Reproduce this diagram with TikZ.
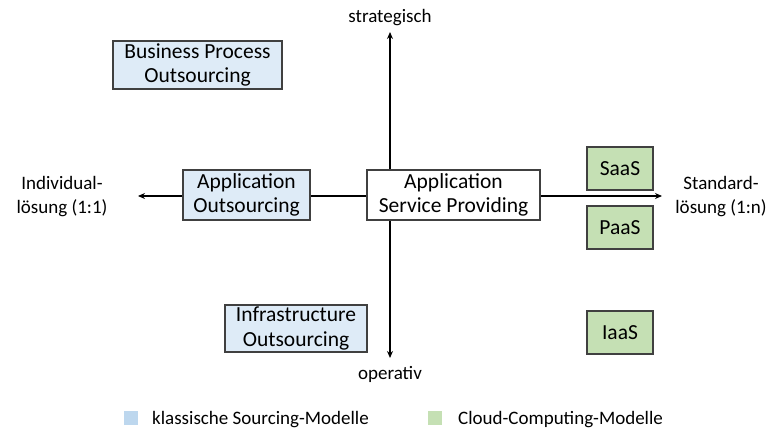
\documentclass[tikz,border=0pt]{standalone}
\usepackage{fontspec}
\setmainfont{Carlito}
\usetikzlibrary{arrows.meta}
\definecolor{classicfill}{HTML}{DEEBF7}
\definecolor{cloudfill}{HTML}{C5E0B4}
\definecolor{classickey}{HTML}{BDD7EE}
\definecolor{boxline}{HTML}{404040}
\tikzset{
  box/.style={draw=boxline, line width=1.2pt, align=center, inner sep=0pt,
    font=\fontsize{21.5}{24.5}\selectfont},
  classic/.style={box, fill=classicfill},
  cloud/.style={box, fill=cloudfill},
  plain/.style={box, fill=white},
  axis/.style={line width=1.6pt, -{Stealth[length=7pt,width=6pt]}},
  axislabel/.style={align=center, inner sep=0pt, font=\fontsize{19}{24}\selectfont},
  keybox/.style={minimum size=14pt, inner sep=0pt}
}
\begin{document}
\begin{tikzpicture}[x=1pt,y=-1pt]
\useasboundingbox (0,0) rectangle (776,430);

% axis end points and origin
\coordinate (origin) at (390,196);
\coordinate (top) at (390,32);
\coordinate (bottom) at (390,358);
\coordinate (left) at (138,196);
\coordinate (right) at (662,196);

\draw[axis] (origin) -- (top);
\draw[axis] (origin) -- (bottom);
\draw[axis] (origin) -- (left);
\draw[axis] (origin) -- (right);

% axis labels
\node[axislabel] (strat) at (390,18) {strategisch};
\node[axislabel] (oper) at (390,374) {operativ};
\node[axislabel] (indiv) at (62,197) {Individual-\\lösung (1:1)};
\node[axislabel] (stand) at (721,197) {Standard-\\lösung (1:n)};

% classic sourcing models
\node[classic, minimum width=169pt, minimum height=48pt] (bpo) at (197.5,65) {Business Process\\Outsourcing};
\node[classic, minimum width=127pt, minimum height=50pt] (ao) at (246.5,195) {Application\\Outsourcing};
\node[classic, minimum width=142pt, minimum height=47pt] (io) at (296,328.5) {Infrastructure\\Outsourcing};
\node[plain, minimum width=173pt, minimum height=50pt] (asp) at (453.5,195) {Application\\Service Providing};

% cloud computing models
\node[cloud, minimum width=66pt, minimum height=43pt] (saas) at (620,168.5) {SaaS};
\node[cloud, minimum width=66pt, minimum height=43pt] (paas) at (620,227.5) {PaaS};
\node[cloud, minimum width=66pt, minimum height=43pt] (iaas) at (620,332.5) {IaaS};

% legend
\node[keybox, fill=classickey] (keyclassic) at (131,418) {};
\node[axislabel, anchor=west] (txtclassic) at (152,420) {klassische Sourcing-Modelle};
\node[keybox, fill=cloudfill] (keycloud) at (435,418) {};
\node[axislabel, anchor=west] (txtcloud) at (458,420) {Cloud-Computing-Modelle};
\end{tikzpicture}
\end{document}
